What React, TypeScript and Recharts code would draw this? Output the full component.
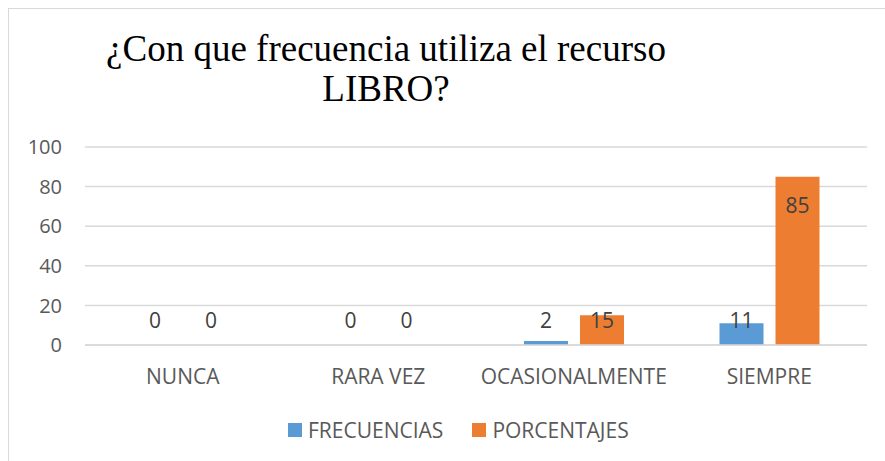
import { Bar, BarChart, CartesianGrid, Legend, Rectangle, XAxis, YAxis } from 'recharts'

const categories = ['NUNCA', 'RARA VEZ', 'OCASIONALMENTE', 'SIEMPRE']
const frecuencias = [0, 0, 2, 11]
const porcentajes = [0, 0, 15, 85]
const yTicks = [0, 20, 40, 60, 80, 100]

const seriesNames = { frecuencias: 'FRECUENCIAS', porcentajes: 'PORCENTAJES' }
const colors = { frecuencias: '#5b9bd5', porcentajes: '#ed7d31' }

const data = categories.map((name, i) => ({
	name,
	frecuencias: frecuencias[i],
	porcentajes: porcentajes[i],
}))

const font = '"Open Sans", sans-serif'
const textColor = '#595959'
const labelColor = '#404040'

// bar + Excel-style "inside end" label, pushed up when the bar is too short
function makeShape(key: 'frecuencias' | 'porcentajes') {
	return (props: any) => {
		const { x, y, width, height, payload } = props
		const base = y + height
		const cy = Math.min(y + 28, base - 25)
		return (
			<g>
				{height > 0 && <Rectangle x={x} y={y} width={width} height={height} fill={colors[key]} />}
				<text
					x={x + width / 2}
					y={cy}
					textAnchor="middle"
					dominantBaseline="central"
					fontFamily={font}
					fontSize={21}
					fill={labelColor}
				>
					{payload[key]}
				</text>
			</g>
		)
	}
}

function LegendContent() {
	const items = [
		{ key: 'frecuencias', label: seriesNames.frecuencias, color: colors.frecuencias },
		{ key: 'porcentajes', label: seriesNames.porcentajes, color: colors.porcentajes },
	]
	return (
		<div style={{ display: 'flex', alignItems: 'center', height: 24, paddingLeft: 288, gap: 29 }}>
			{items.map((it) => (
				<div key={it.key} style={{ display: 'flex', alignItems: 'center' }}>
					<span style={{ width: 14, height: 14, background: it.color, display: 'inline-block', marginRight: 6 }} />
					<span style={{ fontFamily: font, fontSize: 21, color: textColor, lineHeight: '24px' }}>{it.label}</span>
				</div>
			))}
		</div>
	)
}

export default function App() {
	return (
		<div style={{ position: 'absolute', left: 0, top: 0, width: 885, height: 461, background: '#fff', overflow: 'hidden' }}>
			<div
				style={{
					position: 'absolute',
					left: 8,
					top: 8,
					width: 900,
					height: 480,
					borderLeft: '1px solid #d9d9d9',
					borderTop: '1px solid #d9d9d9',
				}}
			/>
			<div
				style={{
					position: 'absolute',
					left: 86,
					top: 29,
					width: 600,
					textAlign: 'center',
					fontFamily: '"Liberation Serif", serif',
					fontSize: 37,
					lineHeight: '40px',
					color: '#000',
				}}
			>
				¿Con que frecuencia utiliza el recurso
				<br />
				LIBRO?
			</div>
			<div style={{ position: 'absolute', left: 0, top: 0 }}>
				<BarChart
					width={885}
					height={461}
					data={data}
					margin={{ top: 147, right: 18, left: 25, bottom: 19 }}
					barSize={44}
					barGap={12}
				>
					<CartesianGrid vertical={false} stroke="#d9d9d9" strokeWidth={1.5} />
					<XAxis
						dataKey="name"
						axisLine={{ stroke: '#d9d9d9', strokeWidth: 1.5 }}
						tickLine={false}
						tickSize={0}
						tickMargin={24}
						height={73}
						tick={{ fontFamily: font, fontSize: 21, fill: textColor }}
						interval={0}
					/>
					<YAxis
						domain={[0, 100]}
						ticks={yTicks}
						axisLine={false}
						tickLine={false}
						tickSize={0}
						tickMargin={23}
						width={60}
						tick={{ fontFamily: font, fontSize: 20, fill: textColor }}
					/>
					<Legend verticalAlign="bottom" content={<LegendContent />} wrapperStyle={{ left: 0, width: 885 }} />
					<Bar
						dataKey="frecuencias"
						name={seriesNames.frecuencias}
						fill={colors.frecuencias}
						shape={makeShape('frecuencias')}
						isAnimationActive={false}
					/>
					<Bar
						dataKey="porcentajes"
						name={seriesNames.porcentajes}
						fill={colors.porcentajes}
						shape={makeShape('porcentajes')}
						isAnimationActive={false}
					/>
				</BarChart>
			</div>
		</div>
	)
}
